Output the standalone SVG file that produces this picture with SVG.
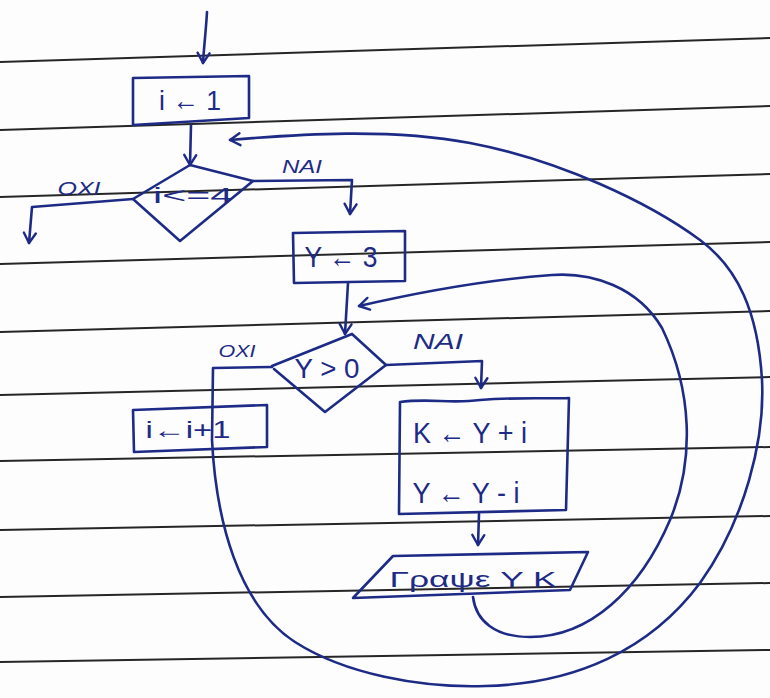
<svg xmlns="http://www.w3.org/2000/svg" width="770" height="698" viewBox="0 0 770 698">
  <style>
    .rule { stroke: #262626; stroke-width: 2; fill: none; }
    .ink { stroke: #1d2b86; stroke-width: 2.6; fill: none; stroke-linecap: round; stroke-linejoin: round; }
    .t { font-family: "Liberation Sans", "DejaVu Sans", sans-serif; fill: #1d2b86; text-anchor: middle; }
    .lbl { font-style: italic; }
  </style>
  <defs>
    <marker id="v" viewBox="-2 -8 14 16" refX="10" refY="0" markerWidth="14" markerHeight="16" markerUnits="userSpaceOnUse" orient="auto">
      <path d="M0,-6 L10,0 L0,6" fill="none" stroke="#1d2b86" stroke-width="2.4" stroke-linecap="round" stroke-linejoin="round"/>
    </marker>
  </defs>

  <rect width="770" height="698" fill="#fdfdfd"/>

  <!-- ruled notebook paper -->
  <g id="paper">
    <line class="rule" x1="0" y1="62" x2="770" y2="38"/>
    <line class="rule" x1="0" y1="130" x2="770" y2="106"/>
    <line class="rule" x1="0" y1="197" x2="770" y2="174"/>
    <line class="rule" x1="0" y1="264" x2="770" y2="242"/>
    <line class="rule" x1="0" y1="332" x2="770" y2="311"/>
    <line class="rule" x1="0" y1="395" x2="770" y2="377"/>
    <line class="rule" x1="0" y1="461" x2="770" y2="447"/>
    <line class="rule" x1="0" y1="530" x2="770" y2="516"/>
    <line class="rule" x1="0" y1="597" x2="770" y2="583"/>
    <line class="rule" x1="0" y1="662" x2="770" y2="650"/>
  </g>

  <!-- i <- 1 -->
  <g id="init">
    <path class="ink" d="M133,78 L249,76 L249,118 L133,125 Z"/>
    <text class="t" x="190" y="110" font-size="28" textLength="62" lengthAdjust="spacingAndGlyphs">i ← 1</text>
  </g>

  <!-- i <= 4 ? -->
  <g id="cond-i">
    <path class="ink" d="M190,165 L253,181 L180,241 L133,199 Z"/>
    <text class="t" x="193" y="203" font-size="22" textLength="80" lengthAdjust="spacingAndGlyphs">i&lt;=4</text>
  </g>

  <!-- Y <- 3 -->
  <g id="init-y">
    <path class="ink" d="M293,233 L405,231 L405,281 L294,283 Z"/>
    <text class="t" x="341" y="267" font-size="30" textLength="73" lengthAdjust="spacingAndGlyphs">Y ← 3</text>
  </g>

  <!-- Y > 0 ? -->
  <g id="cond-y">
    <path class="ink" d="M352,334 L386,365 L325,412 L274,369 M272,366 L352,334"/>
    <text class="t" x="327" y="378" font-size="28" textLength="65" lengthAdjust="spacingAndGlyphs">Y &gt; 0</text>
  </g>

  <!-- i <- i + 1 -->
  <g id="inc-i">
    <path class="ink" d="M133,410 L267,405 L267,447 L134,452 Z"/>
    <text class="t" x="188" y="438" font-size="24" textLength="85" lengthAdjust="spacingAndGlyphs">i←i+1</text>
  </g>

  <!-- K <- Y + i ; Y <- Y - i -->
  <g id="calc">
    <path class="ink" d="M400,402 C430,398 450,404 480,400 C520,397 545,399 569,398 L566,510 L399,514 Z"/>
    <text class="t" x="470" y="443" font-size="30" textLength="114" lengthAdjust="spacingAndGlyphs">K ← Y + i</text>
    <text class="t" x="466" y="503" font-size="30" textLength="107" lengthAdjust="spacingAndGlyphs">Y ← Y - i</text>
  </g>

  <!-- output Y K -->
  <g id="output">
    <path class="ink" d="M393,556 L588,552 L570,590 L353,598 Z"/>
    <text class="t" x="473" y="587" font-size="22" textLength="167" lengthAdjust="spacingAndGlyphs">Γραψε Y K</text>
  </g>

  <!-- flow lines -->
  <g id="connectors">
    <path class="ink" marker-end="url(#v)" d="M207,12 C206,30 204,46 203,63"/>
    <path class="ink" marker-end="url(#v)" d="M191,125 L190,165"/>
    <path class="ink" marker-end="url(#v)" d="M133,199 L32,207 L29,243"/>
    <path class="ink" marker-end="url(#v)" d="M253,181 L352,180 L350,214"/>
    <path class="ink" marker-end="url(#v)" d="M348,283 L345,334"/>
    <path class="ink" marker-end="url(#v)" d="M386,365 L482,361 L481,388"/>
    <path class="ink" marker-end="url(#v)" d="M479,514 L478,545"/>
    <!-- Y > 0 false: i <- i + 1 and back to the i test -->
    <path class="ink" marker-end="url(#v)" d="M272,367 L213,368 L212,440 C216,520 238,605 295,642 C345,674 420,688 485,686 C575,684 650,650 700,583 C745,520 765,440 762,380 C758,312 738,268 700,240 C650,203 560,160 470,143 C390,128 300,134 230,140"/>
    <!-- after output: back to the Y test -->
    <path class="ink" marker-end="url(#v)" d="M473,597 C476,621 495,637 530,637 C590,637 640,590 670,520 C695,460 692,390 662,328 C638,287 592,272 552,275 C482,280 420,292 359,306"/>
  </g>

  <g id="labels">
    <text class="t lbl" x="79" y="195" font-size="18" textLength="43" lengthAdjust="spacingAndGlyphs">ΟΧΙ</text>
    <text class="t lbl" x="302" y="173" font-size="18" textLength="40" lengthAdjust="spacingAndGlyphs">ΝΑΙ</text>
    <text class="t lbl" x="237" y="357" font-size="17" textLength="37" lengthAdjust="spacingAndGlyphs">ΟΧΙ</text>
    <text class="t lbl" x="438" y="349" font-size="22" textLength="50" lengthAdjust="spacingAndGlyphs">ΝΑΙ</text>
  </g>
</svg>
